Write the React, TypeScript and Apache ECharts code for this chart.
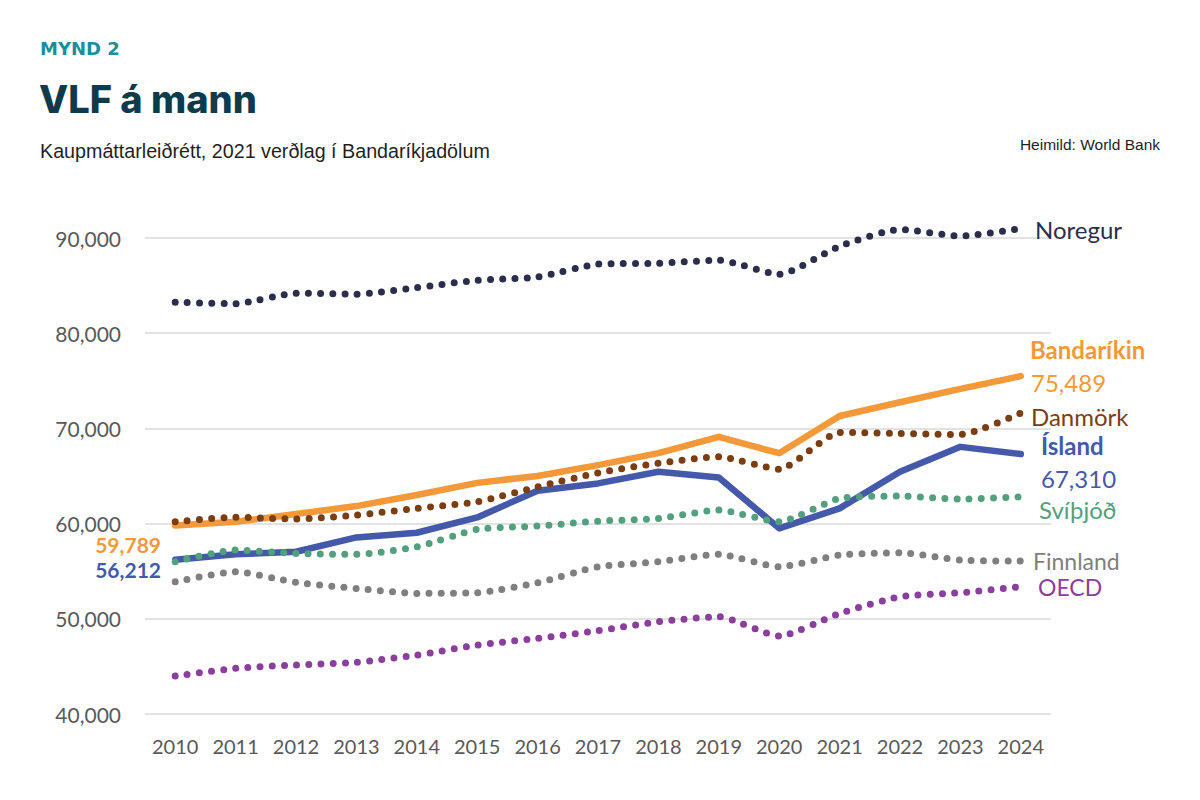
import React, { useEffect, useRef } from "react";
import * as echarts from "echarts";

const years = ["2010","2011","2012","2013","2014","2015","2016","2017","2018","2019","2020","2021","2022","2023","2024"];
const bandarikin = [59789, 60190, 61000, 61840, 63000, 64280, 65000, 66140, 67400, 69110, 67400, 71300, 72750, 74150, 75489];
const island = [56212, 56770, 57040, 58550, 59040, 60650, 63450, 64220, 65440, 64850, 59500, 61600, 65440, 68060, 67310];
const noregur = [83250, 83100, 84200, 84100, 84800, 85560, 85900, 87250, 87350, 87660, 86200, 89130, 90900, 90200, 91000];
const danmork = [60190, 60680, 60470, 60900, 61600, 62290, 63860, 65330, 66350, 67010, 65720, 69570, 69470, 69360, 71600];
const svithjod = [55990, 57220, 56870, 56770, 57560, 59390, 59740, 60260, 60540, 61420, 60190, 62650, 62890, 62570, 62810];
const finnland = [53890, 54940, 53820, 53190, 52670, 52740, 53790, 55460, 55990, 56770, 55460, 56690, 56940, 56170, 56060];
const oecd = [43990, 44800, 45150, 45430, 46190, 47240, 47950, 48750, 49690, 50220, 48190, 50570, 52320, 52740, 53370];
const yTicks = [40000, 50000, 60000, 70000, 80000, 90000];

const C = {
  orange: "#F4993A",
  blue: "#4559AA",
  navy: "#2B2E4A",
  brown: "#7A3E12",
  green: "#52A07E",
  gray: "#7F7F7F",
  purple: "#8A3F9C",
};

const fmt = (v: number) => v.toLocaleString("en-US");
const FONT = "Lato";

export default function App() {
  const ref = useRef<HTMLDivElement>(null);
  useEffect(() => {
    if (!ref.current) return;
    const chart = echarts.init(ref.current, undefined, { renderer: "svg" });
    const dotted = (name: string, data: number[], color: string) => ({
      name,
      type: "line",
      data,
      symbol: "none",
      clip: false,
      smooth: 0.2,
      lineStyle: { color, width: 7, type: [0, 12.2], cap: "round" },
      z: 3,
    });
    const solid = (name: string, data: number[], color: string) => ({
      name,
      type: "line",
      data,
      symbol: "none",
      clip: false,
      lineStyle: { color, width: 6.5, cap: "round", join: "round" },
      z: 2,
    });
    const txt = (text: string, x: number, y: number, color: string, size: number, weight: any = "normal", align = "left", family = FONT) => ({
      type: "text",
      x,
      y,
      style: { text, fill: color, fontSize: size, fontWeight: weight, fontFamily: family, align, verticalAlign: "middle" },
      z: 10,
    });
    chart.setOption({
      animation: false,
      backgroundColor: "#ffffff",
      grid: { left: 145, right: 149, top: 238, bottom: 86 },
      xAxis: {
        type: "category",
        data: years,
        boundaryGap: true,
        axisLine: { show: false },
        axisTick: { show: false },
        axisLabel: { color: "#595959", fontSize: 20, fontFamily: FONT, margin: 22 },
      },
      yAxis: {
        type: "value",
        min: yTicks[0],
        max: yTicks[yTicks.length - 1],
        interval: 10000,
        axisLine: { show: false },
        axisTick: { show: false },
        axisLabel: { color: "#595959", fontSize: 21, fontFamily: FONT, margin: 24, formatter: (v: number) => fmt(v) },
        splitLine: { lineStyle: { color: "#D9D9D9", width: 1.5 } },
      },
      series: [
        solid("Bandaríkin", bandarikin, C.orange),
        solid("Ísland", island, C.blue),
        dotted("Noregur", noregur, C.navy),
        dotted("Danmörk", danmork, C.brown),
        dotted("Svíþjóð", svithjod, C.green),
        dotted("Finnland", finnland, C.gray),
        dotted("OECD", oecd, C.purple),
      ],
      graphic: [
        txt("MYND 2", 40, 48, "#1A8E9C", 18, 800, "left", "DejaVu Sans"),
        txt("VLF á mann", 39, 99, "#0E3B4B", 38, 800, "left", "Inter"),
        txt("Kaupmáttarleiðrétt, 2021 verðlag í Bandaríkjadölum", 40, 151, "#1F1F1F", 19.7, "normal", "left", "Liberation Sans"),
        txt("Heimild: World Bank", 1160, 144, "#1F1F1F", 15.5, "normal", "right", "Liberation Sans"),
        txt("Noregur", 1035, 229, C.navy, 24),
        txt("Bandaríkin", 1030, 349, C.orange, 24, "bold"),
        txt(fmt(bandarikin[bandarikin.length - 1]), 1031, 382, C.orange, 24),
        txt("Danmörk", 1031, 416, C.brown, 24),
        txt("Ísland", 1041, 445, C.blue, 24, "bold"),
        txt(fmt(island[island.length - 1]), 1041, 478, C.blue, 24),
        txt("Svíþjóð", 1039, 509, C.green, 24),
        txt("Finnland", 1033, 561, C.gray, 23),
        txt("OECD", 1038, 587, C.purple, 23),
        txt(fmt(bandarikin[0]), 161, 544, C.orange, 21, "bold", "right"),
        txt(fmt(island[0]), 161, 569, C.blue, 21, "bold", "right"),
      ],
    });
    return () => chart.dispose();
  }, []);
  return <div ref={ref} style={{ position: "fixed", left: 0, top: 0, width: 1200, height: 800, background: "#fff" }} />;
}
